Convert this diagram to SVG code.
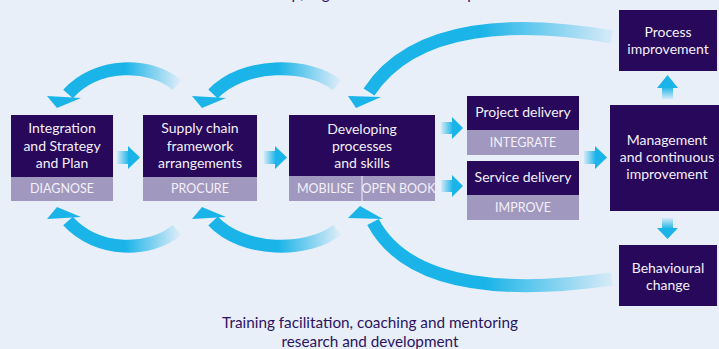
<svg xmlns="http://www.w3.org/2000/svg" width="719" height="349" viewBox="0 0 719 349">
<defs>
<style>
.box{fill:#27085a}
.band{fill:#a198bf}
.bt{font-family:Lato,"Liberation Sans",sans-serif;font-size:14px;fill:#f3f0f9;text-anchor:middle}
.lt{font-family:Lato,"Liberation Sans",sans-serif;font-size:12.5px;fill:#f3f0f9;text-anchor:middle}
.ft{font-family:Lato,"Liberation Sans",sans-serif;font-size:15.3px;fill:#2b145f;text-anchor:middle}
.head{fill:#1ab4e8}
.arc{fill:none;stroke-width:13}
</style>
<linearGradient id="gT1" gradientUnits="userSpaceOnUse" x1="178" y1="0" x2="125" y2="0"><stop offset="0" stop-color="#1ab4e8" stop-opacity="0.08"/><stop offset="1" stop-color="#1ab4e8"/></linearGradient>
<linearGradient id="gT2" gradientUnits="userSpaceOnUse" x1="338" y1="0" x2="278" y2="0"><stop offset="0" stop-color="#1ab4e8" stop-opacity="0.08"/><stop offset="1" stop-color="#1ab4e8"/></linearGradient>
<linearGradient id="gT3" gradientUnits="userSpaceOnUse" x1="612" y1="0" x2="480" y2="0"><stop offset="0" stop-color="#1ab4e8" stop-opacity="0.08"/><stop offset="1" stop-color="#1ab4e8"/></linearGradient>
<linearGradient id="gB3" gradientUnits="userSpaceOnUse" x1="612" y1="0" x2="485" y2="0"><stop offset="0" stop-color="#1ab4e8" stop-opacity="0.08"/><stop offset="1" stop-color="#1ab4e8"/></linearGradient>
<linearGradient id="gR" x1="0" y1="0" x2="1" y2="0"><stop offset="0" stop-color="#1ab4e8" stop-opacity="0.1"/><stop offset="1" stop-color="#1ab4e8"/></linearGradient>
<linearGradient id="gU" x1="0" y1="1" x2="0" y2="0"><stop offset="0" stop-color="#1ab4e8" stop-opacity="0.1"/><stop offset="1" stop-color="#1ab4e8"/></linearGradient>
<linearGradient id="gD" x1="0" y1="0" x2="0" y2="1"><stop offset="0" stop-color="#1ab4e8" stop-opacity="0.1"/><stop offset="1" stop-color="#1ab4e8"/></linearGradient>
</defs>
<rect x="0" y="0" width="719" height="349" fill="#e8eff9"/>

<text class="ft" x="369" y="-1">Leadership, organisation and development</text>

<g id="connectors">
<path class="arc" stroke="url(#gT1)" d="M177,85 C150,62 97,62 68,94"/>
<polygon class="head" points="47,96 81,98 57,108"/>
<path class="arc" stroke="url(#gT2)" d="M337,85 C308,62 243,62 213,94"/>
<polygon class="head" points="192,96 226,98 202,108"/>
<path class="arc" stroke="url(#gT3)" stroke-width="15" d="M612,37 C520,21 415,22 369,92"/>
<polygon class="head" points="348,96 381,97 356,108"/>
<path class="arc" stroke="url(#gT1)" d="M177,230 C150,253 97,253 68,221"/>
<polygon class="head" points="47,219 81,217 57,207"/>
<path class="arc" stroke="url(#gT2)" d="M337,230 C308,253 243,253 213,221"/>
<polygon class="head" points="192,219 226,217 202,207"/>
<path class="arc" stroke="url(#gB3)" stroke-width="15" d="M612,279 C520,292 410,292 373,222"/>
<polygon class="head" points="348,218 383,219 360,206"/>
<rect x="117" y="151" width="12" height="13" fill="url(#gR)"/>
<polygon class="head" points="128,146 140,157.5 128,169"/>
<rect x="264" y="151" width="12" height="13" fill="url(#gR)"/>
<polygon class="head" points="275,146 287,157.5 275,169"/>
<rect x="441" y="122" width="12" height="12" fill="url(#gR)"/>
<polygon class="head" points="452,117 463,128 452,139"/>
<rect x="441" y="180" width="12" height="12" fill="url(#gR)"/>
<polygon class="head" points="452,175 463,186 452,197"/>
<rect x="584" y="151" width="12" height="13" fill="url(#gR)"/>
<polygon class="head" points="595,146 607,157.5 595,169"/>
<rect x="662" y="87" width="11" height="12" fill="url(#gU)"/>
<polygon class="head" points="657,88 667.5,75 678,88"/>
<rect x="662" y="218" width="11" height="11" fill="url(#gD)"/>
<polygon class="head" points="657,228 667.5,239 678,228"/>
</g>

<g id="diagnose">
<rect class="box" x="11" y="115" width="102" height="86"/>
<rect class="band" x="11" y="177" width="102" height="24"/>
<text class="bt" x="62" y="133">Integration</text>
<text class="bt" x="62" y="150.5">and Strategy</text>
<text class="bt" x="62" y="168">and Plan</text>
<text class="lt" x="62" y="193">DIAGNOSE</text>
</g>

<g id="procure">
<rect class="box" x="143" y="115" width="114" height="86"/>
<rect class="band" x="143" y="177" width="114" height="24"/>
<text class="bt" x="200" y="133">Supply chain</text>
<text class="bt" x="200" y="150.5">framework</text>
<text class="bt" x="200" y="168">arrangements</text>
<text class="lt" x="200" y="193">PROCURE</text>
</g>

<g id="mobilise">
<rect class="box" x="289" y="115" width="146" height="86"/>
<rect class="band" x="289" y="176" width="146" height="25"/>
<line x1="362" y1="176" x2="362" y2="201" stroke="#f3f0f9" stroke-width="1"/>
<text class="bt" x="362" y="133.5">Developing</text>
<text class="bt" x="362" y="150.5">processes</text>
<text class="bt" x="362" y="167.5">and skills</text>
<text class="lt" x="325.5" y="193">MOBILISE</text>
<text class="lt" x="398.5" y="193">OPEN BOOK</text>
</g>

<g id="integrate">
<rect class="box" x="467" y="96" width="112" height="59"/>
<rect class="band" x="467" y="130" width="112" height="25"/>
<text class="bt" x="523" y="117">Project delivery</text>
<text class="lt" x="523" y="147">INTEGRATE</text>
</g>

<g id="improve">
<rect class="box" x="467" y="161" width="112" height="59"/>
<rect class="band" x="467" y="195" width="112" height="25"/>
<text class="bt" x="523" y="182">Service delivery</text>
<text class="lt" x="523" y="212">IMPROVE</text>
</g>

<g id="management">
<rect class="box" x="610" y="105" width="112" height="106"/>
<text class="bt" x="667" y="145">Management</text>
<text class="bt" x="667" y="162">and continuous</text>
<text class="bt" x="667" y="179">improvement</text>
</g>

<g id="process">
<rect class="box" x="619" y="10" width="98" height="61"/>
<text class="bt" x="668" y="37">Process</text>
<text class="bt" x="668" y="54">improvement</text>
</g>

<g id="behaviour">
<rect class="box" x="619" y="245" width="98" height="61"/>
<text class="bt" x="668" y="273">Behavioural</text>
<text class="bt" x="668" y="290">change</text>
</g>

<text class="ft" x="370" y="327.5">Training facilitation, coaching and mentoring</text>
<text class="ft" x="370" y="346.5">research and development</text>
</svg>
